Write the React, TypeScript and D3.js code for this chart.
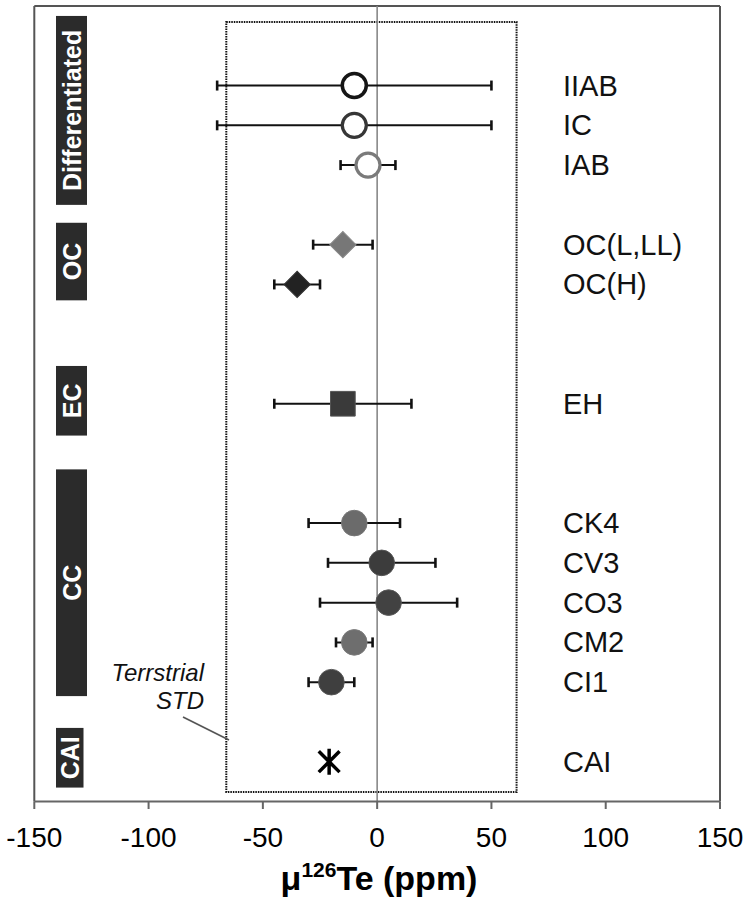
import * as d3 from 'd3';

// samples, top to bottom
const samples = ['IIAB', 'IC', 'IAB', 'OC(L,LL)', 'OC(H)', 'EH', 'CK4', 'CV3', 'CO3', 'CM2', 'CI1', 'CAI'];
const rowIndex = [0, 1, 2, 4, 5, 8, 11, 12, 13, 14, 15, 17];
const mu126Te = [-10, -10, -4, -15, -35, -15, -10, 2, 5, -10, -20, -21];
const err2sd = [60, 60, 12, 13, 10, 30, 20, 23.5, 30, 8, 10, 0];

// meteorite groups with the row range each box covers
const groupNames = ['Differentiated', 'OC', 'EC', 'CC', 'CAI'];
const groupRows = [
  [-1.75, 3.0],
  [3.45, 5.4],
  [7.05, 8.8],
  [9.65, 15.35],
  [16.15, 17.65],
];

const xTicks = [-150, -100, -50, 0, 50, 100, 150];
const terrestrialStd = [-66, 61];

type Mk = { kind: string; fill: string; stroke: string; sw: number };
const markerStyle: Mk[] = [
  { kind: 'circle', fill: '#fff', stroke: '#151515', sw: 3.5 },
  { kind: 'circle', fill: '#fff', stroke: '#363636', sw: 3.2 },
  { kind: 'circle', fill: '#fff', stroke: '#7a7a7a', sw: 3.2 },
  { kind: 'diamond', fill: '#777', stroke: '#888', sw: 1 },
  { kind: 'diamond', fill: '#222', stroke: '#333', sw: 1 },
  { kind: 'square', fill: '#3a3a3a', stroke: '#555', sw: 1 },
  { kind: 'dot', fill: '#6b6b6b', stroke: '#777', sw: 1 },
  { kind: 'dot', fill: '#3c3c3c', stroke: '#555', sw: 1 },
  { kind: 'dot', fill: '#424242', stroke: '#5a5a5a', sw: 1 },
  { kind: 'dot', fill: '#6e6e6e', stroke: '#7a7a7a', sw: 1 },
  { kind: 'dot', fill: '#3f3f3f', stroke: '#575757', sw: 1 },
  { kind: 'asterisk', fill: 'none', stroke: '#000', sw: 3.5 },
];

const W = 750;
const H = 910;
const FONT = 'Liberation Sans, Arial, sans-serif';

export default function App() {
  const x = d3.scaleLinear().domain([-150, 150]).range([34.3, 720]);
  const y = d3.scaleLinear().domain([-2, 18]).range([6, 801.5]);

  const top = y(-2);
  const bottom = y(18);

  const diamond = d3.symbol(d3.symbolSquare, 345)();
  const square = d3.symbol(d3.symbolSquare, 610)();

  const marker = (i: number) => {
    const s = markerStyle[i];
    const cx = x(mu126Te[i]);
    const cy = y(rowIndex[i]);
    if (s.kind === 'circle') {
      return <circle cx={cx} cy={cy} r={12} fill={s.fill} stroke={s.stroke} strokeWidth={s.sw} />;
    }
    if (s.kind === 'dot') {
      return <circle cx={cx} cy={cy} r={12.8} fill={s.fill} stroke={s.stroke} strokeWidth={s.sw} />;
    }
    if (s.kind === 'diamond') {
      return (
        <path
          d={diamond!}
          transform={`translate(${cx},${cy}) rotate(45)`}
          fill={s.fill}
          stroke={s.stroke}
          strokeWidth={s.sw}
        />
      );
    }
    if (s.kind === 'square') {
      return <path d={square!} transform={`translate(${cx},${cy})`} fill={s.fill} stroke={s.stroke} strokeWidth={s.sw} />;
    }
    const p = d3.path();
    const a = 13;
    p.moveTo(0, -a);
    p.lineTo(0, a);
    p.moveTo(-a * 0.8, -a * 0.8);
    p.lineTo(a * 0.8, a * 0.8);
    p.moveTo(-a * 0.8, a * 0.8);
    p.lineTo(a * 0.8, -a * 0.8);
    return <path d={p.toString()} transform={`translate(${cx},${cy})`} fill="none" stroke={s.stroke} strokeWidth={s.sw} />;
  };

  return (
    <svg width={W} height={H} style={{ position: 'absolute', left: 0, top: 0, background: '#fff' }}>
      {/* frame */}
      <line x1={x(-150)} x2={x(150)} y1={top} y2={top} stroke="#555" strokeWidth={2} />
      <line x1={x(-150)} x2={x(-150)} y1={top} y2={bottom} stroke="#555" strokeWidth={2} />
      <line x1={x(150)} x2={x(150)} y1={top} y2={bottom} stroke="#555" strokeWidth={2} />

      {/* terrestrial standard band */}
      <rect
        x={x(terrestrialStd[0])}
        y={22}
        width={x(terrestrialStd[1]) - x(terrestrialStd[0])}
        height={792 - 22}
        fill="none"
        stroke="#111"
        strokeWidth={2}
        strokeDasharray="1.5,1"
      />

      {/* zero line */}
      <line x1={x(0)} x2={x(0)} y1={top} y2={bottom} stroke="#888" strokeWidth={1.6} />

      {/* x axis */}
      <line x1={x(-150)} x2={x(150)} y1={bottom} y2={bottom} stroke="#666" strokeWidth={2} />
      {xTicks.map((t) => (
        <g key={t}>
          <line x1={x(t)} x2={x(t)} y1={bottom} y2={bottom + 7.5} stroke="#666" strokeWidth={2} />
          <text x={x(t)} y={847} textAnchor="middle" fontFamily={FONT} fontSize={28} fill="#000">
            {t}
          </text>
        </g>
      ))}
      <text x={379} y={890} textAnchor="middle" fontFamily={FONT} fontSize={34} fontWeight="bold" fill="#000">
        μ
        <tspan fontSize={21} dy={-13}>
          126
        </tspan>
        <tspan dy={13}>Te (ppm)</tspan>
      </text>

      {/* group boxes */}
      {groupNames.map((g, i) => {
        const y0 = y(groupRows[i][0]);
        const y1 = y(groupRows[i][1]);
        const w = g === 'CAI' ? 27.5 : 31;
        const cx = 56 + w / 2;
        const cy = (y0 + y1) / 2;
        return (
          <g key={g}>
            <rect x={56} y={y0} width={w} height={y1 - y0} fill="#2b2b2b" />
            <text
              transform={`translate(${cx + 9},${cy}) rotate(-90)`}
              textAnchor="middle"
              fontFamily={FONT}
              fontSize={25}
              fontWeight="bold"
              fill="#fff"
            >
              {g}
            </text>
          </g>
        );
      })}

      {/* error bars */}
      {samples.map((s, i) =>
        err2sd[i] > 0 ? (
          <g key={s} stroke="#111" strokeWidth={2}>
            <line x1={x(mu126Te[i] - err2sd[i])} x2={x(mu126Te[i] + err2sd[i])} y1={y(rowIndex[i])} y2={y(rowIndex[i])} />
            <line x1={x(mu126Te[i] - err2sd[i])} x2={x(mu126Te[i] - err2sd[i])} y1={y(rowIndex[i]) - 5} y2={y(rowIndex[i]) + 5} strokeWidth={2.6} />
            <line x1={x(mu126Te[i] + err2sd[i])} x2={x(mu126Te[i] + err2sd[i])} y1={y(rowIndex[i]) - 5} y2={y(rowIndex[i]) + 5} strokeWidth={2.6} />
          </g>
        ) : null
      )}

      {/* markers */}
      {samples.map((s, i) => (
        <g key={s}>{marker(i)}</g>
      ))}

      {/* sample labels */}
      {samples.map((s, i) => (
        <text key={s} x={563} y={y(rowIndex[i]) + 10} fontFamily={FONT} fontSize={29} fill="#111">
          {s}
        </text>
      ))}

      {/* annotation */}
      <text x={204} y={681} textAnchor="end" fontFamily={FONT} fontSize={24} fontStyle="italic" fill="#111">
        Terrstrial
      </text>
      <text x={204} y={709} textAnchor="end" fontFamily={FONT} fontSize={24} fontStyle="italic" fill="#111">
        STD
      </text>
      <line x1={183} y1={717} x2={229} y2={740} stroke="#555" strokeWidth={1.6} />
    </svg>
  );
}
